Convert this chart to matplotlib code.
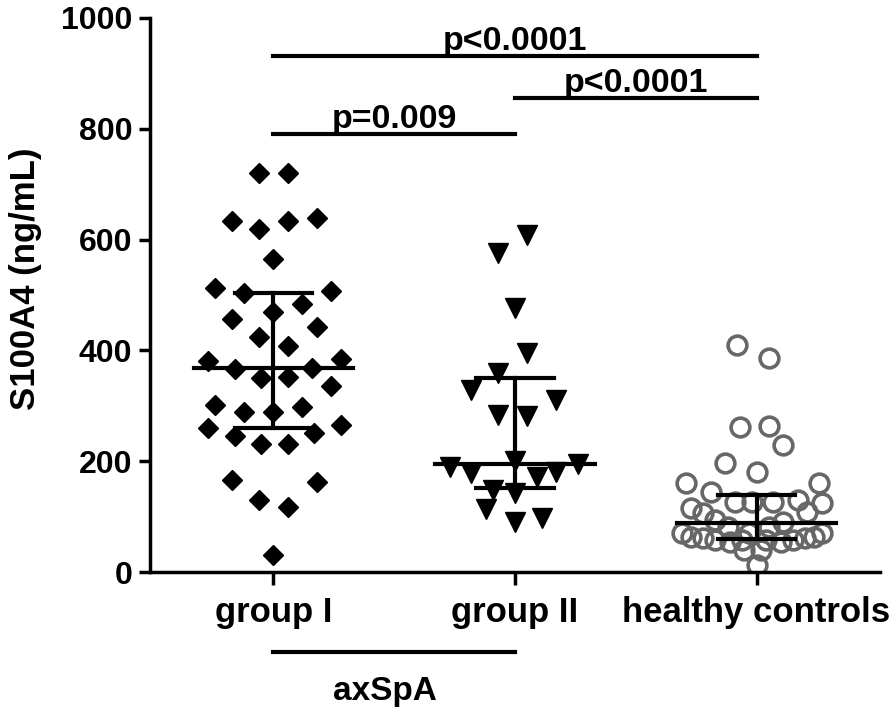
import matplotlib.pyplot as plt
import matplotlib.transforms as mtransforms

plt.rcParams['font.family'] = ['Liberation Sans', 'DejaVu Sans']
plt.rcParams['font.weight'] = 'bold'

# --- Data (S100A4, ng/mL) ---
categories = ['group I', 'group II', 'healthy controls']

group1 = [720, 720, 634, 619, 634, 639, 565, 513, 503, 508, 484, 469, 457, 442,
          424, 408, 381, 384, 366, 368, 350, 352, 336, 301, 289, 289, 298, 260,
          246, 251, 265, 231, 231, 166, 162, 130, 117, 31]
group2 = [608, 576, 477, 395, 359, 329, 310, 283, 282, 200, 190, 179, 195, 180,
          172, 148, 143, 114, 90, 98]
controls = [410, 386, 262, 263, 229, 197, 181, 160, 160, 145, 116, 125, 127, 127,
            127, 130, 106, 108, 94, 90, 70, 70, 63, 63, 61, 61, 58, 58, 54, 54,
            58, 58, 70, 81, 81, 40, 40, 13]

# horizontal scatter offsets (swarm layout as in the figure)
group1_dx = [-0.06, 0.06, -0.17, -0.06, 0.06, 0.18, 0.0, -0.24, -0.12, 0.24, 0.12,
             0.0, -0.17, 0.18, -0.06, 0.06, -0.27, 0.28, -0.16, 0.16, -0.05, 0.06,
             0.24, -0.24, -0.12, 0.0, 0.12, -0.27, -0.16, 0.17, 0.28, -0.05, 0.06,
             -0.17, 0.18, -0.06, 0.06, 0.0]
group2_dx = [0.05, -0.07, 0.0, 0.05, -0.07, -0.18, 0.17, -0.07, 0.05, 0.0, -0.27,
             -0.18, 0.26, 0.17, 0.09, -0.09, 0.0, -0.12, 0.0, 0.11]
controls_dx = [-0.08, 0.05, -0.07, 0.05, 0.11, -0.13, 0.0, -0.29, 0.26, -0.19,
               -0.27, 0.27, -0.09, 0.07, -0.02, 0.17, -0.22, 0.21, -0.17, 0.11,
               -0.31, 0.27, -0.27, 0.24, -0.22, 0.2, -0.17, 0.15, -0.11, 0.1,
               -0.06, 0.04, -0.03, -0.12, 0.05, 0.02, -0.05, 0.0]

# median and interquartile range
medians = [368, 195, 88]
q1 = [260, 152, 60]
q3 = [504, 350, 139]

# significance brackets: (start group, end group, height, label)
brackets = [(0, 2, 932, 'p<0.0001'),
            (1, 2, 855, 'p<0.0001'),
            (0, 1, 790, 'p=0.009')]

# --- Plot ---
fig = plt.figure(figsize=(8.94, 7.15), dpi=100)
ax = fig.add_axes([0.168, 0.2, 0.816, 0.775])

ax.plot([0 + d for d in group1_dx], group1, 'D', color='black', markersize=10.4,
        linestyle='none')
ax.plot([1 + d for d in group2_dx], group2, 'v', color='black', markersize=14.5,
        linestyle='none')
ax.plot([2 + d for d in controls_dx], controls, 'o', markerfacecolor='none',
        markeredgecolor='#676767', markeredgewidth=2.6, markersize=13.5,
        linestyle='none')

# median with interquartile range
for i in range(3):
    ax.plot([i - 0.33, i + 0.33], [medians[i], medians[i]], color='black', lw=3, zorder=5)
    ax.plot([i - 0.16, i + 0.16], [q1[i], q1[i]], color='black', lw=3, zorder=5)
    ax.plot([i - 0.16, i + 0.16], [q3[i], q3[i]], color='black', lw=3, zorder=5)
    ax.plot([i, i], [q1[i], q3[i]], color='black', lw=3, zorder=5)

for a, b, h, lab in brackets:
    ax.plot([a, b], [h, h], color='black', lw=3, clip_on=False)
    ax.text((a + b) / 2, h - 2, lab, ha='center', va='bottom', fontsize=24.5,
            fontweight='bold')

ax.set_xlim(-0.51, 2.51)
ax.set_ylim(0, 1000)
ax.set_yticks([0, 200, 400, 600, 800, 1000])
ax.set_xticks([0, 1, 2])
ax.set_xticklabels(categories, fontsize=25, fontweight='bold')
ax.tick_params(axis='y', labelsize=23, length=8, width=2.5, pad=5)
ax.tick_params(axis='x', length=9, width=2.5, pad=8)
for lab in ax.get_yticklabels():
    lab.set_fontweight('bold')

ax.set_ylabel('S100A4 (ng/mL)', fontsize=25, fontweight='bold')
ax.yaxis.set_label_coords(-0.148, 0.53)

ax.spines['top'].set_visible(False)
ax.spines['right'].set_visible(False)
ax.spines['left'].set_linewidth(2.5)
ax.spines['bottom'].set_linewidth(2.5)
ax.spines['left'].set_bounds(0, 1000)

# axSpA grouping line under the x axis
trans = mtransforms.blended_transform_factory(ax.transData, ax.transAxes)
ax.plot([0, 1], [-0.145, -0.145], color='black', lw=3, transform=trans, clip_on=False)
ax.text(0.46, -0.215, 'axSpA', transform=trans, ha='center', va='center',
        fontsize=24, fontweight='bold')

fig.savefig('out.png', dpi=100)
